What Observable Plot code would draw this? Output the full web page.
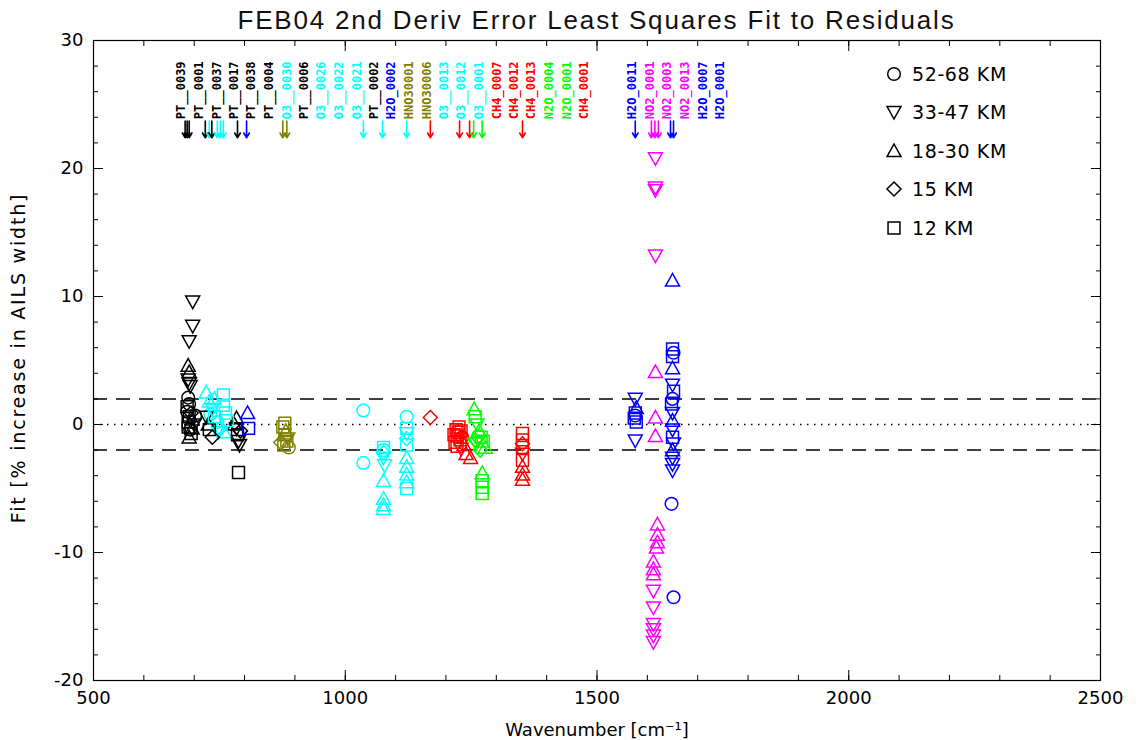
<!DOCTYPE html>
<html>
<head>
<meta charset="utf-8">
<script src="https://cdn.jsdelivr.net/npm/d3@7"></script>
<script src="https://cdn.jsdelivr.net/npm/@observablehq/plot@0.6"></script>
<style>
  html, body { margin: 0; padding: 0; background: #fff; }
  #wrap { position: relative; width: 1140px; height: 740px; }
  #title { position: absolute; left: 93px; top: 5px; width: 1007px; text-align: center;
    font-family: "Liberation Sans", sans-serif; font-weight: 400; font-size: 26px;
    letter-spacing: 1.8px; color: #111; white-space: nowrap; }
  #ylabel { position: absolute; left: 18px; top: 358px; white-space: nowrap;
    transform: translate(-50%, -50%) rotate(-90deg);
    font-family: "DejaVu Sans", sans-serif; font-size: 19px; letter-spacing: 1.8px; color: #000; }
  #legend { position: absolute; left: 880px; top: 60px; font-family: "DejaVu Sans", sans-serif;
    font-size: 19px; letter-spacing: 0.6px; color: #000; }
  .row { position: absolute; left: 0; height: 28px; white-space: nowrap; display: flex; align-items: center; }
  .row svg { width: 28px; height: 28px; }
  .row span { margin-left: 4px; }
</style>
</head>
<body>
<div id="wrap">
  <div id="chart"></div>
  <div id="title">FEB04 2nd Deriv Error Least Squares Fit to Residuals</div>
  <div id="ylabel">Fit [% increase in AILS width]</div>
  <div id="legend"></div>
</div>
<script>
// ---------- data ----------
// altitude classes: 0 = 52-68 KM, 1 = 33-47 KM, 2 = 18-30 KM, 3 = 15 KM, 4 = 12 KM
const altitudeLabels = ["52-68 KM", "33-47 KM", "18-30 KM", "15 KM", "12 KM"];

const speciesColors = {
  PT: "#000000", O3: "#00ffff", H2O: "#0000ff", HNO3: "#808000",
  CH4: "#ff0000", N2O: "#00ff00", NO2: "#ff00ff"
};

// [wavenumber, fit %, altitude class]
const ptPoints = [
  [697, 9.6, 1], [697, 7.7, 1], [690, 6.5, 1], [688, 4.6, 2], [690, 4.1, 2],
  [688, 3.5, 1], [690, 3.2, 1], [692, 3.0, 1], [688, 2.1, 0], [690, 1.6, 0],
  [686, 1.0, 0], [694, 0.9, 3], [690, 0.6, 4], [688, 0.2, 4], [696, 0.4, 2],
  [700, 0.0, 1], [688, -0.2, 4], [692, -0.4, 0], [696, -0.3, 2], [690, -1.0, 2],
  [702, 0.7, 0], [686, 1.4, 4], [694, -0.7, 4], [724, 0.6, 1], [728, 0.0, 2], [730, -0.4, 4], [736, -1.0, 3],
  [780, 0.0, 2], [784, -0.3, 1], [786, -0.8, 4], [788, -1.3, 1], [790, -1.6, 1],
  [784, 0.5, 2], [792, -0.5, 3], [788, -3.75, 4]
];
const o3Points = [
  [724, 2.5, 2], [730, 1.8, 2], [736, 1.2, 1], [740, 0.6, 4], [746, 0.2, 0],
  [752, -0.3, 3], [758, 2.3, 4], [758, 1.5, 4], [762, 0.9, 4], [760, -0.6, 2],
  [748, -0.6, 1], [732, 0.8, 0], [740, 2.0, 2], [766, 0.3, 4],
  [1036, 1.1, 0], [1036, -3.0, 0],
  [1076, -1.8, 4], [1076, -2.2, 3], [1076, -2.6, 1], [1078, -3.2, 1], [1076, -4.4, 2],
  [1076, -5.8, 2], [1076, -6.3, 2], [1076, -6.6, 2], [1076, -2.0, 0],
  [1122, 0.6, 0], [1122, -0.3, 4], [1122, -0.7, 1], [1122, -1.6, 4], [1122, -2.6, 2],
  [1122, -3.3, 2], [1122, -3.9, 2], [1122, -4.5, 2], [1122, -5.0, 4], [1122, -1.1, 3]
];
const h2oPoints = [
  [806, 0.9, 2], [808, -0.3, 4],
  [1576, 2.0, 1], [1578, 1.3, 2], [1576, 0.9, 4], [1574, 0.5, 4], [1578, 0.2, 4],
  [1576, 0.7, 0], [1576, -1.25, 1],
  [1650, 11.25, 2], [1650, 5.9, 4], [1652, 5.6, 0], [1650, 5.3, 4], [1650, 4.4, 2],
  [1650, 3.1, 1], [1652, 2.6, 4], [1650, 2.0, 0], [1648, 1.6, 4], [1650, 0.9, 1],
  [1650, 0.3, 2], [1650, -0.4, 1], [1650, -1.0, 4], [1652, -1.5, 1], [1650, -2.0, 2],
  [1650, -2.6, 1], [1650, -3.1, 1], [1650, -3.6, 1], [1648, -6.2, 0], [1652, -13.5, 0]
];
const hno3Points = [
  [876, -0.2, 4], [880, -0.8, 4], [884, -1.3, 4], [878, -1.6, 4], [882, -0.5, 2],
  [886, -1.1, 1], [872, -1.4, 3], [888, -1.8, 0], [880, 0.1, 4]
];
const ch4Points = [
  [1169, 0.55, 3],
  [1220, -0.4, 4], [1222, -0.9, 4], [1218, -1.4, 4], [1224, -0.6, 4], [1228, -1.2, 4],
  [1230, -1.9, 1], [1240, -2.3, 2], [1236, -1.6, 2], [1226, -0.2, 4], [1232, -1.0, 0],
  [1216, -0.8, 4], [1230, -0.5, 4], [1222, -1.7, 4], [1249, -2.6, 2],
  [1352, -0.7, 4], [1352, -1.2, 4], [1352, -1.8, 4], [1352, -2.3, 1], [1352, -2.8, 4],
  [1352, -3.3, 2], [1352, -3.9, 2], [1352, -4.3, 2], [1352, -1.5, 3]
];
const n2oPoints = [
  [1256, 1.2, 2], [1258, 0.6, 4], [1262, 0.0, 1], [1266, -0.5, 2], [1270, -1.0, 4],
  [1260, -1.5, 1], [1274, -1.3, 4], [1278, -1.8, 2], [1264, -0.9, 0], [1268, -2.0, 3],
  [1272, -3.8, 2], [1272, -4.4, 4], [1272, -4.9, 4], [1272, -5.4, 4], [1258, -1.2, 3]
];
const no2Points = [
  [1616, 20.8, 1], [1616, 18.5, 1], [1616, 18.3, 1], [1616, 13.2, 1], [1616, 4.1, 2],
  [1616, 0.55, 2], [1616, -0.9, 2], [1620, -7.8, 2], [1620, -8.6, 2], [1620, -9.2, 2],
  [1618, -9.6, 2], [1612, -10.7, 2], [1612, -11.3, 2], [1612, -11.7, 2], [1612, -13.0, 1],
  [1612, -14.3, 1], [1612, -15.6, 1], [1612, -16.0, 1], [1612, -16.5, 1], [1612, -17.0, 1]
];

// microwindow arrows: wavenumber + species
const arrowWavenumbers = [682, 686, 690, 722, 730, 735, 746, 752, 758, 786, 804, 876, 884,
  1036, 1074, 1122, 1169, 1227, 1247, 1255, 1272, 1352, 1576, 1608, 1615, 1622, 1646, 1652];
const arrowSpecies = ["PT", "PT", "PT", "PT", "O3", "PT", "O3", "O3", "O3", "PT", "H2O", "HNO3", "HNO3",
  "O3", "O3", "O3", "CH4", "CH4", "CH4", "N2O", "N2O", "CH4", "H2O", "NO2", "NO2", "NO2", "H2O", "H2O"];

// microwindow name labels (rotated) and their positions along the wavenumber axis
const mwNames = ["PT_0039", "PT_0001", "PT_0037", "PT_0017", "PT_0038", "PT_0004", "O3_0030",
  "PT_0006", "O3_0026", "O3_0022", "O3_0021", "PT_0002", "H2O_0002", "HNO30001", "HNO30006",
  "O3_0013", "O3_0012", "O3_0001", "CH4_0007", "CH4_0012", "CH4_0013", "N2O_0004", "N2O_0001",
  "CH4_0001", "H2O_0011", "NO2_0001", "NO2_0003", "NO2_0013", "H2O_0007", "H2O_0001"];
const mwSpecies = ["PT", "PT", "PT", "PT", "PT", "PT", "O3", "PT", "O3", "O3", "O3", "PT", "H2O",
  "HNO3", "HNO3", "O3", "O3", "O3", "CH4", "CH4", "CH4", "N2O", "N2O", "CH4", "H2O", "NO2", "NO2",
  "NO2", "H2O", "H2O"];
const mwLabelX = [675, 710, 745, 779, 814, 849, 884, 918, 953, 988, 1023, 1057, 1092, 1127, 1162,
  1197, 1231, 1266, 1301, 1336, 1370, 1405, 1440, 1475, 1570, 1605, 1640, 1675, 1710, 1745];

const xMajor = [500, 1000, 1500, 2000, 2500];
const xMinor = d3.range(500, 2501, 100);
const yMajor = [-20, -10, 0, 10, 20, 30];
const yMinor = d3.range(-20, 31, 2);

// ---------- build tables ----------
const groups = [["PT", ptPoints], ["O3", o3Points], ["H2O", h2oPoints], ["HNO3", hno3Points],
  ["CH4", ch4Points], ["N2O", n2oPoints], ["NO2", no2Points]];
const points = groups.flatMap(([sp, arr]) =>
  arr.map(([wn, fit, alt]) => ({wn, fit, alt, color: speciesColors[sp]})));
const arrows = arrowWavenumbers.map((wn, i) => ({wn, color: speciesColors[arrowSpecies[i]]}));
// label text: the long "__" look of the original vector font
const mwLabels = mwNames.map((name, i) => ({
  name: name.replace("_", name.indexOf("_") <= 2 ? "__" : "_"),
  x: mwLabelX[i], color: speciesColors[mwSpecies[i]]
}));

// ---------- symbols ----------
function mk(fn) { return {draw(ctx, size) { fn(ctx, Math.sqrt(size / Math.PI)); }}; }
const symCircle = mk((c, r) => { c.moveTo(r * 0.9, 0); c.arc(0, 0, r * 0.9, 0, 2 * Math.PI); });
const symDown = mk((c, r) => { c.moveTo(-r, -0.8 * r); c.lineTo(r, -0.8 * r); c.lineTo(0, r); c.closePath(); });
const symUp = mk((c, r) => { c.moveTo(-r, 0.8 * r); c.lineTo(r, 0.8 * r); c.lineTo(0, -r); c.closePath(); });
const symDiamond = mk((c, r) => { c.moveTo(0, -r); c.lineTo(r, 0); c.lineTo(0, r); c.lineTo(-r, 0); c.closePath(); });
const symSquare = mk((c, r) => { const s = 0.85 * r; c.moveTo(-s, -s); c.lineTo(s, -s); c.lineTo(s, s); c.lineTo(-s, s); c.closePath(); });
const symbols = [symCircle, symDown, symUp, symDiamond, symSquare];

// ---------- plot ----------
const font = "'DejaVu Sans', sans-serif";
const chart = Plot.plot({
  width: 1140,
  height: 740,
  marginTop: 40,
  marginBottom: 60,
  marginLeft: 93,
  marginRight: 40,
  style: {fontFamily: font, fontSize: "18px", background: "#fff", color: "#000"},
  x: {domain: [500, 2500]},
  y: {domain: [-20, 30]},
  marks: [
    Plot.ruleY([2, -2], {stroke: "#000", strokeWidth: 1.5, strokeDasharray: "14,9"}),
    Plot.ruleY([0], {stroke: "#000", strokeWidth: 1.5, strokeDasharray: "1.5,5.5"}),
    ...symbols.map((sym, k) => Plot.dot(points.filter(d => d.alt === k), {
      x: "wn", y: "fit", stroke: "color", symbol: sym, r: 7, strokeWidth: 1.5
    })),
    Plot.arrow(arrows, {x1: "wn", x2: "wn", y1: 23.7, y2: 22.4, stroke: "color",
      strokeWidth: 1.6, headLength: 6, insetEnd: 0, insetStart: 0}),
    Plot.text(mwLabels, {x: "x", y: 23.85, text: "name", rotate: -90, textAnchor: "start",
      fill: "color", fontSize: 12, fontWeight: "bold", fontFamily: "'DejaVu Sans Mono', monospace"}),
    Plot.frame({stroke: "#000", strokeWidth: 1.2}),
    // ticks (inward, all sides)
    Plot.axisX({anchor: "bottom", ticks: xMajor, tickSize: -10, tickFormat: () => "", label: null}),
    Plot.axisX({anchor: "top", ticks: xMajor, tickSize: -10, tickFormat: () => "", label: null}),
    Plot.axisX({anchor: "bottom", ticks: xMinor, tickSize: -5, tickFormat: () => "", label: null}),
    Plot.axisX({anchor: "top", ticks: xMinor, tickSize: -5, tickFormat: () => "", label: null}),
    Plot.axisY({anchor: "left", ticks: yMajor, tickSize: -10, tickFormat: () => "", label: null}),
    Plot.axisY({anchor: "right", ticks: yMajor, tickSize: -10, tickFormat: () => "", label: null}),
    Plot.axisY({anchor: "left", ticks: yMinor, tickSize: -5, tickFormat: () => "", label: null}),
    Plot.axisY({anchor: "right", ticks: yMinor, tickSize: -5, tickFormat: () => "", label: null}),
    // tick labels and x axis title
    Plot.axisX({anchor: "bottom", ticks: xMajor, tickSize: 0, tickPadding: 11, tickFormat: d => String(d),
      label: "Wavenumber [cm⁻¹]", labelAnchor: "center", labelArrow: "none", labelOffset: 55}),
    Plot.axisY({anchor: "left", ticks: yMajor, tickSize: 0, tickPadding: 10, tickFormat: d => String(d),
      label: null})
  ]
});
document.getElementById("chart").appendChild(chart);

// ---------- legend (HTML overlay) ----------
const legend = document.getElementById("legend");
const rowTops = [0, 38, 77, 115, 154];
symbols.forEach((sym, k) => {
  const row = document.createElement("div");
  row.className = "row";
  row.style.top = rowTops[k] + "px";
  const path = d3.path();
  sym.draw(path, Math.PI * 49);
  row.innerHTML = `<svg viewBox="-14 -14 28 28"><path d="${path.toString()}" fill="none" stroke="#000" stroke-width="1.5"/></svg><span>${altitudeLabels[k]}</span>`;
  legend.appendChild(row);
});
</script>
</body>
</html>
